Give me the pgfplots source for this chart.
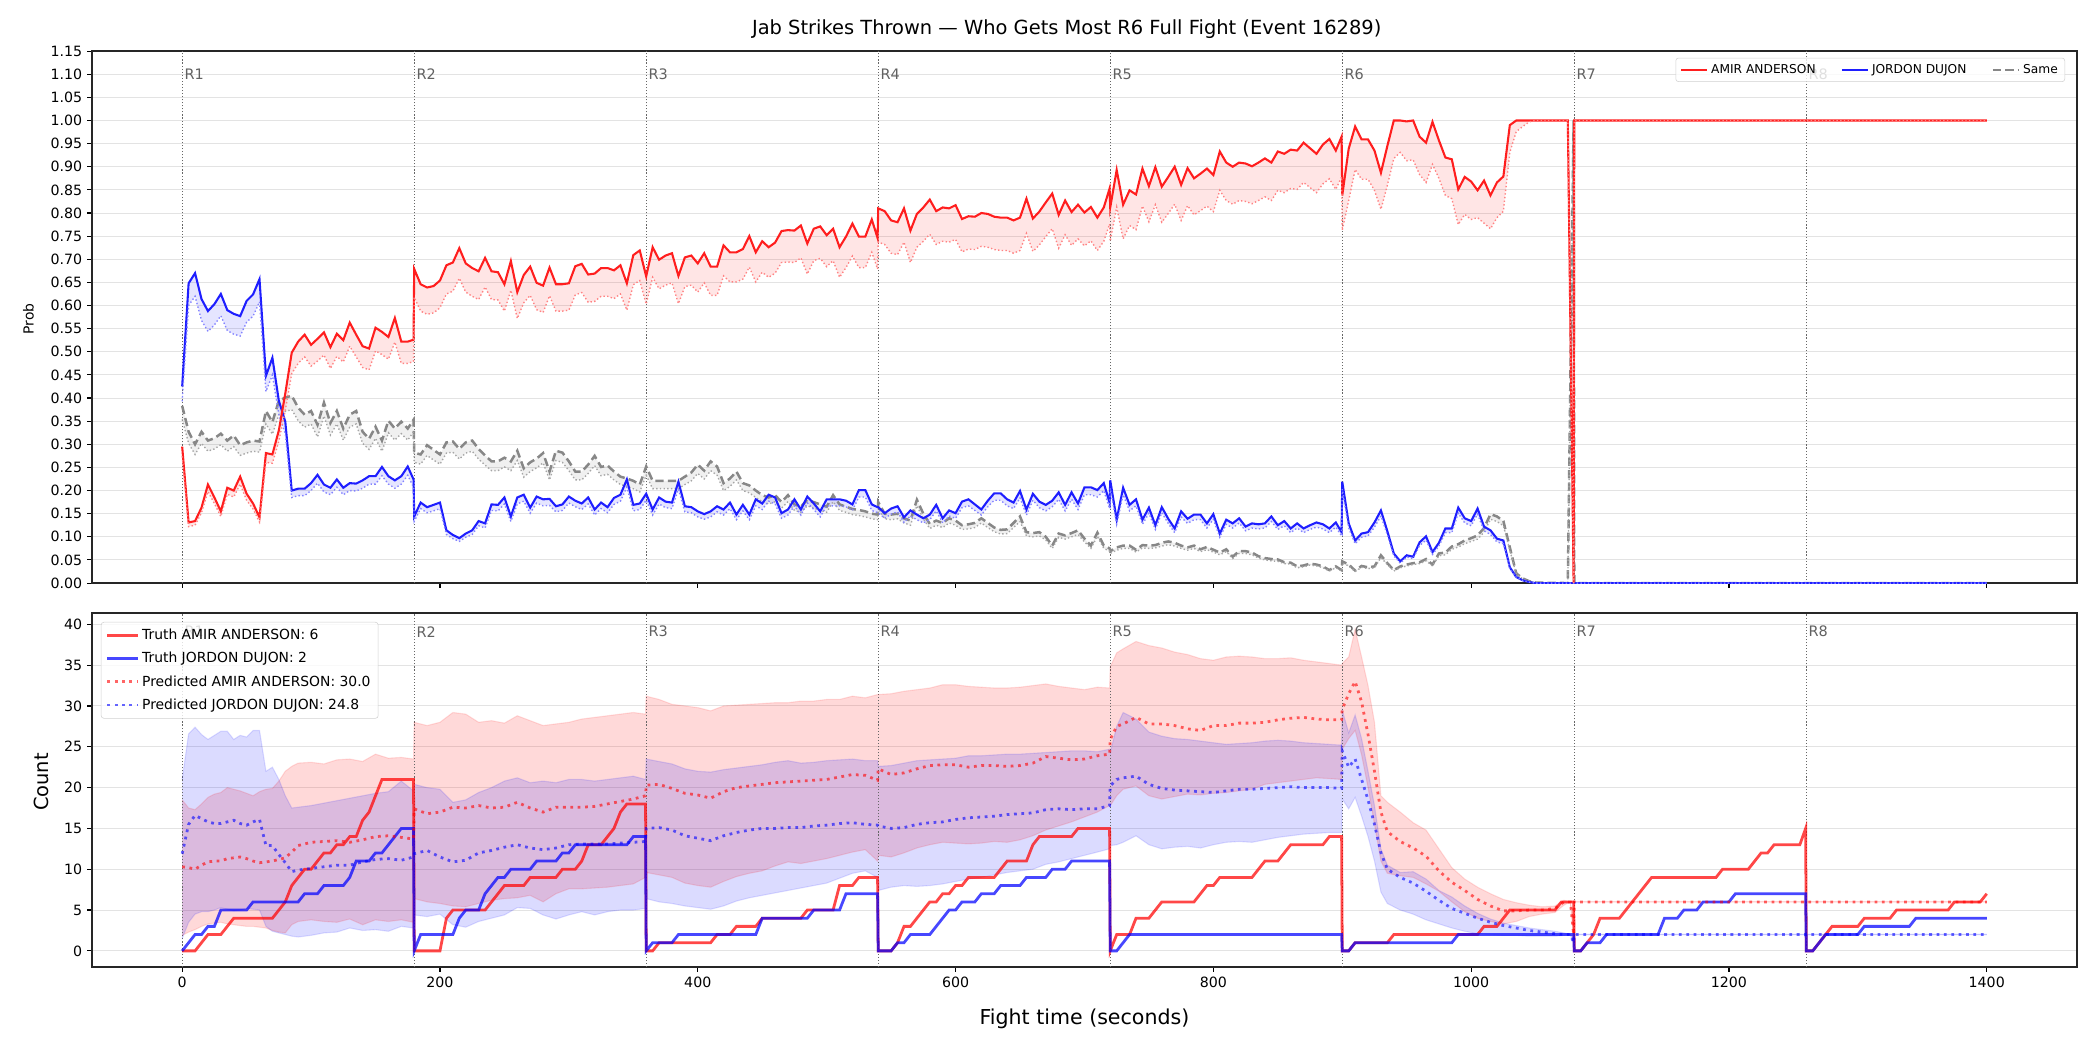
\documentclass[border=0pt]{standalone}
\usepackage{fontspec}
\setmainfont{DejaVu Sans}
\usepackage{pgfplots}
\usepackage{pgfplotstable}
\pgfplotsset{compat=1.18}
\usepgfplotslibrary{fillbetween}

\definecolor{amir}{RGB}{255,30,30}
\definecolor{jordon}{RGB}{30,30,255}
\definecolor{samec}{RGB}{135,135,135}

% win probabilities: solid estimate and lower (dotted) bound, sampled every 5 s
\pgfplotstableread{
t A Alo J Jlo S Slo
0 0.295 0.274 0.425 0.393 0.383 0.354
5 0.131 0.122 0.648 0.600 0.327 0.302
10 0.134 0.125 0.670 0.620 0.300 0.278
15 0.163 0.152 0.614 0.568 0.327 0.302
20 0.213 0.198 0.588 0.544 0.308 0.285
25 0.185 0.172 0.603 0.558 0.313 0.290
30 0.155 0.144 0.625 0.578 0.323 0.299
35 0.206 0.192 0.590 0.546 0.308 0.285
40 0.200 0.186 0.582 0.538 0.319 0.295
45 0.230 0.214 0.577 0.534 0.298 0.276
50 0.193 0.179 0.610 0.564 0.304 0.281
55 0.172 0.160 0.624 0.577 0.308 0.285
60 0.142 0.132 0.657 0.608 0.306 0.283
65 0.281 0.261 0.448 0.414 0.372 0.344
70 0.278 0.259 0.487 0.450 0.348 0.322
75 0.330 0.307 0.394 0.364 0.394 0.364
80 0.410 0.373 0.349 0.323 0.401 0.371
85 0.498 0.453 0.200 0.185 0.405 0.375
90 0.522 0.475 0.204 0.189 0.379 0.351
95 0.537 0.489 0.204 0.189 0.364 0.337
100 0.515 0.469 0.216 0.200 0.372 0.344
105 0.528 0.480 0.234 0.216 0.342 0.316
110 0.542 0.493 0.213 0.197 0.390 0.361
115 0.510 0.464 0.206 0.191 0.346 0.320
120 0.539 0.490 0.224 0.207 0.372 0.344
125 0.525 0.478 0.206 0.191 0.334 0.309
130 0.563 0.512 0.216 0.200 0.364 0.337
135 0.537 0.489 0.215 0.199 0.372 0.344
140 0.512 0.466 0.222 0.205 0.327 0.302
145 0.507 0.461 0.231 0.214 0.312 0.289
150 0.552 0.502 0.231 0.214 0.338 0.313
155 0.543 0.494 0.251 0.232 0.308 0.285
160 0.532 0.484 0.231 0.214 0.351 0.325
165 0.573 0.521 0.222 0.205 0.334 0.309
170 0.522 0.475 0.231 0.214 0.349 0.323
175 0.522 0.475 0.252 0.233 0.334 0.309
179.5 0.526 0.479 0.224 0.207 0.353 0.327
180 0.679 0.618 0.144 0.133 0.282 0.261
185 0.646 0.588 0.174 0.161 0.278 0.257
190 0.639 0.581 0.164 0.152 0.298 0.276
195 0.642 0.584 0.169 0.156 0.288 0.266
200 0.654 0.595 0.174 0.161 0.278 0.257
205 0.687 0.625 0.114 0.105 0.304 0.281
210 0.693 0.631 0.104 0.096 0.306 0.283
215 0.724 0.659 0.097 0.090 0.290 0.268
220 0.691 0.629 0.107 0.099 0.304 0.281
225 0.681 0.620 0.114 0.105 0.308 0.285
230 0.674 0.613 0.134 0.124 0.290 0.268
235 0.703 0.640 0.129 0.119 0.276 0.255
240 0.674 0.613 0.170 0.157 0.263 0.243
245 0.672 0.612 0.169 0.156 0.263 0.243
250 0.646 0.588 0.185 0.171 0.271 0.251
255 0.696 0.633 0.144 0.133 0.263 0.243
260 0.629 0.572 0.185 0.171 0.286 0.265
265 0.666 0.606 0.191 0.177 0.248 0.229
270 0.684 0.622 0.163 0.151 0.261 0.241
275 0.649 0.591 0.187 0.173 0.269 0.249
280 0.643 0.585 0.181 0.167 0.281 0.260
285 0.682 0.621 0.182 0.168 0.241 0.223
290 0.646 0.588 0.166 0.154 0.286 0.265
295 0.646 0.588 0.170 0.157 0.282 0.261
300 0.648 0.590 0.187 0.173 0.263 0.243
305 0.685 0.623 0.178 0.165 0.241 0.223
310 0.690 0.628 0.172 0.159 0.241 0.223
315 0.667 0.607 0.185 0.171 0.256 0.237
320 0.669 0.609 0.159 0.147 0.275 0.254
325 0.681 0.620 0.174 0.161 0.251 0.232
330 0.681 0.620 0.164 0.152 0.254 0.235
335 0.676 0.615 0.184 0.170 0.241 0.223
340 0.687 0.625 0.191 0.177 0.230 0.213
345 0.648 0.590 0.224 0.207 0.226 0.209
350 0.709 0.645 0.169 0.156 0.221 0.204
355 0.719 0.654 0.172 0.159 0.213 0.197
360 0.663 0.603 0.193 0.179 0.252 0.233
365 0.726 0.661 0.159 0.147 0.221 0.204
370 0.699 0.636 0.185 0.171 0.221 0.204
375 0.708 0.644 0.176 0.163 0.221 0.204
380 0.713 0.649 0.174 0.161 0.221 0.204
385 0.664 0.604 0.219 0.203 0.221 0.204
390 0.704 0.641 0.166 0.154 0.230 0.213
395 0.708 0.644 0.164 0.152 0.239 0.221
400 0.691 0.629 0.155 0.143 0.256 0.237
405 0.713 0.649 0.149 0.138 0.243 0.225
410 0.684 0.622 0.155 0.143 0.263 0.243
415 0.684 0.622 0.166 0.154 0.252 0.233
420 0.730 0.664 0.159 0.147 0.216 0.200
425 0.715 0.651 0.174 0.161 0.226 0.209
430 0.715 0.651 0.148 0.137 0.241 0.223
435 0.722 0.657 0.169 0.156 0.216 0.200
440 0.750 0.683 0.148 0.137 0.211 0.195
445 0.715 0.651 0.181 0.167 0.200 0.185
450 0.739 0.672 0.172 0.159 0.190 0.176
455 0.726 0.661 0.191 0.177 0.185 0.171
460 0.736 0.670 0.185 0.171 0.190 0.176
465 0.761 0.693 0.151 0.140 0.175 0.162
470 0.763 0.694 0.159 0.147 0.190 0.176
475 0.762 0.693 0.181 0.167 0.170 0.157
480 0.773 0.703 0.159 0.147 0.165 0.153
485 0.734 0.668 0.187 0.173 0.180 0.167
490 0.766 0.697 0.172 0.159 0.175 0.162
495 0.771 0.702 0.155 0.143 0.170 0.157
500 0.752 0.684 0.181 0.167 0.165 0.153
505 0.766 0.697 0.181 0.167 0.190 0.176
510 0.726 0.661 0.181 0.167 0.170 0.157
515 0.749 0.682 0.178 0.165 0.165 0.153
520 0.777 0.707 0.170 0.157 0.160 0.148
525 0.749 0.682 0.201 0.186 0.158 0.146
530 0.749 0.682 0.201 0.186 0.155 0.143
535 0.786 0.715 0.170 0.157 0.150 0.139
539.5 0.746 0.679 0.164 0.152 0.148 0.137
540 0.810 0.737 0.164 0.152 0.175 0.162
545 0.804 0.732 0.151 0.140 0.150 0.139
550 0.784 0.713 0.161 0.149 0.148 0.137
555 0.780 0.710 0.166 0.154 0.150 0.139
560 0.810 0.737 0.142 0.131 0.140 0.130
565 0.762 0.693 0.157 0.145 0.135 0.125
570 0.798 0.726 0.148 0.137 0.180 0.167
575 0.812 0.739 0.140 0.130 0.150 0.139
580 0.829 0.754 0.148 0.137 0.128 0.118
585 0.804 0.732 0.169 0.156 0.135 0.125
590 0.812 0.739 0.140 0.130 0.130 0.120
595 0.810 0.737 0.157 0.145 0.140 0.130
600 0.817 0.743 0.151 0.140 0.135 0.125
605 0.787 0.716 0.176 0.163 0.125 0.116
610 0.793 0.722 0.181 0.167 0.127 0.117
615 0.792 0.721 0.170 0.157 0.130 0.120
620 0.800 0.728 0.159 0.147 0.140 0.130
625 0.798 0.726 0.178 0.165 0.130 0.120
630 0.792 0.721 0.194 0.179 0.120 0.111
635 0.790 0.719 0.194 0.179 0.115 0.106
640 0.790 0.719 0.181 0.167 0.116 0.107
645 0.784 0.713 0.174 0.161 0.130 0.120
650 0.790 0.719 0.199 0.184 0.144 0.133
655 0.831 0.756 0.159 0.147 0.110 0.102
660 0.788 0.717 0.193 0.179 0.108 0.100
665 0.803 0.731 0.176 0.163 0.110 0.102
670 0.823 0.749 0.169 0.156 0.100 0.093
675 0.842 0.766 0.178 0.165 0.081 0.075
680 0.796 0.724 0.196 0.181 0.107 0.099
685 0.827 0.753 0.169 0.156 0.103 0.095
690 0.802 0.730 0.196 0.181 0.108 0.100
695 0.818 0.744 0.172 0.159 0.114 0.105
700 0.801 0.729 0.207 0.191 0.096 0.089
705 0.813 0.740 0.207 0.191 0.081 0.075
710 0.790 0.719 0.201 0.186 0.109 0.101
715 0.812 0.739 0.216 0.200 0.081 0.075
719.5 0.853 0.776 0.174 0.161 0.075 0.069
720 0.812 0.739 0.222 0.205 0.069 0.064
725 0.893 0.813 0.137 0.127 0.077 0.071
730 0.818 0.744 0.206 0.191 0.081 0.075
735 0.849 0.773 0.169 0.156 0.081 0.075
740 0.840 0.764 0.181 0.167 0.072 0.067
745 0.896 0.815 0.137 0.127 0.082 0.076
750 0.858 0.781 0.163 0.151 0.081 0.075
755 0.899 0.818 0.125 0.116 0.082 0.076
760 0.857 0.780 0.164 0.152 0.087 0.080
765 0.878 0.799 0.139 0.129 0.090 0.083
770 0.900 0.819 0.118 0.109 0.087 0.080
775 0.861 0.784 0.155 0.143 0.081 0.075
780 0.897 0.816 0.139 0.129 0.077 0.071
785 0.875 0.796 0.148 0.137 0.081 0.075
790 0.885 0.805 0.148 0.137 0.073 0.068
795 0.896 0.815 0.129 0.119 0.078 0.072
800 0.882 0.803 0.149 0.138 0.072 0.067
805 0.933 0.849 0.107 0.099 0.066 0.061
810 0.909 0.827 0.137 0.127 0.073 0.068
815 0.900 0.819 0.129 0.119 0.057 0.053
820 0.909 0.827 0.140 0.130 0.069 0.064
825 0.907 0.825 0.122 0.113 0.069 0.064
830 0.901 0.820 0.129 0.119 0.066 0.061
835 0.909 0.827 0.127 0.117 0.058 0.054
840 0.918 0.835 0.129 0.119 0.054 0.050
845 0.909 0.827 0.144 0.133 0.052 0.048
850 0.933 0.849 0.125 0.116 0.051 0.047
855 0.928 0.844 0.134 0.124 0.045 0.042
860 0.937 0.853 0.118 0.109 0.044 0.041
865 0.935 0.851 0.129 0.119 0.036 0.033
870 0.952 0.866 0.118 0.109 0.038 0.035
875 0.940 0.855 0.125 0.116 0.042 0.039
880 0.928 0.844 0.131 0.121 0.040 0.037
885 0.948 0.863 0.127 0.117 0.036 0.033
890 0.960 0.874 0.118 0.109 0.028 0.026
895 0.935 0.851 0.131 0.121 0.036 0.033
899.5 0.965 0.878 0.110 0.102 0.028 0.026
900 0.838 0.763 0.219 0.203 0.047 0.043
905 0.939 0.827 0.129 0.119 0.040 0.037
910 0.987 0.894 0.092 0.085 0.027 0.025
915 0.959 0.873 0.107 0.099 0.037 0.034
920 0.959 0.873 0.110 0.102 0.034 0.031
925 0.935 0.849 0.131 0.121 0.036 0.033
930 0.887 0.808 0.157 0.145 0.060 0.055
935 0.945 0.860 0.112 0.104 0.043 0.040
940 1.000 0.918 0.064 0.059 0.028 0.026
945 1.000 0.931 0.047 0.043 0.036 0.033
950 0.998 0.913 0.060 0.056 0.040 0.037
955 1.000 0.915 0.057 0.053 0.043 0.040
960 0.965 0.883 0.088 0.081 0.045 0.042
965 0.952 0.866 0.101 0.093 0.052 0.048
970 0.997 0.905 0.067 0.062 0.040 0.037
975 0.957 0.875 0.087 0.080 0.064 0.059
980 0.920 0.838 0.118 0.109 0.066 0.061
985 0.916 0.831 0.118 0.109 0.079 0.073
990 0.851 0.775 0.163 0.151 0.084 0.078
995 0.878 0.797 0.140 0.130 0.092 0.085
1000 0.868 0.786 0.134 0.124 0.097 0.090
1005 0.849 0.790 0.161 0.149 0.103 0.095
1010 0.870 0.778 0.122 0.113 0.119 0.110
1015 0.838 0.766 0.114 0.105 0.149 0.138
1020 0.866 0.790 0.096 0.089 0.144 0.133
1025 0.879 0.804 0.092 0.085 0.134 0.124
1030 0.990 0.931 0.034 0.031 0.077 0.071
1035 1.000 0.976 0.013 0.012 0.021 0.019
1040 1.000 0.987 0.006 0.006 0.010 0.009
1045 1.000 0.997 0.002 0.002 0.004 0.004
1050 1.000 1.000 0.000 0.000 0.001 0.001
1075 1.000 1.000 0.000 0.000 0.000 0.000
1079.5 0.000 0.000 0.000 0.000 1.000 1.000
1080 1.000 1.000 0.000 0.000 0.000 0.000
1400 1.000 1.000 0.000 0.000 0.000 0.000
}\probtable

% predicted counts with their bands
\pgfplotstableread{
t pA aLo aHi pJ jLo jHi
0 10.3 1.9 18.5 11.9 1.5 21.0
5 10.2 2.3 17.5 15.5 3.5 26.6
10 10.0 2.6 17.3 16.6 4.5 27.4
15 10.5 3.0 18.0 16.2 4.8 26.5
20 10.9 3.3 18.8 15.8 4.8 25.9
25 11.0 3.4 19.2 15.6 5.0 26.4
30 11.0 3.5 19.4 15.6 5.3 26.9
35 11.3 3.3 20.0 15.8 5.1 26.9
40 11.4 3.2 19.8 16.0 4.9 25.9
45 11.5 3.1 19.6 15.6 5.0 26.4
50 11.3 3.0 19.3 15.4 5.2 26.2
55 11.0 3.0 19.0 15.8 5.1 27.0
60 10.8 2.9 19.5 16.1 5.0 27.0
65 10.9 2.8 19.8 12.9 3.0 22.0
70 11.0 2.5 19.9 12.9 2.4 22.5
75 11.2 2.3 20.8 11.8 2.2 21.0
80 11.4 2.2 22.0 10.8 2.0 19.0
85 12.1 3.2 22.6 9.7 1.8 17.5
90 12.9 3.6 23.0 9.9 1.7 17.6
100 13.3 3.8 23.1 10.1 1.9 17.8
110 13.4 3.6 22.9 10.3 2.2 18.1
120 13.5 3.5 23.4 10.5 2.3 18.4
130 13.3 3.9 23.5 10.5 2.8 18.7
140 13.6 3.2 23.2 10.9 2.5 19.0
150 14.0 3.8 24.1 11.2 2.6 19.3
160 14.1 3.6 23.6 11.3 2.4 19.5
170 13.9 3.8 23.7 11.1 3.0 20.8
179.5 13.7 3.5 23.5 11.5 2.8 19.6
180 17.4 6.4 28.0 11.9 4.4 20.4
190 16.8 6.0 27.6 12.3 4.2 20.0
200 17.0 5.8 28.0 11.5 4.5 19.8
210 17.6 5.5 29.2 10.9 3.2 18.2
220 17.5 5.4 29.0 11.1 2.9 18.5
230 17.8 5.8 28.0 12.0 3.6 19.4
240 17.5 6.2 28.2 12.3 4.0 20.0
250 17.6 6.4 27.9 12.7 4.4 20.8
260 18.2 6.5 28.8 13.0 5.3 21.2
270 17.5 6.8 28.2 12.6 5.2 20.6
280 17.0 6.0 27.6 12.4 4.4 20.8
290 17.6 7.0 27.8 12.6 3.9 20.6
300 17.6 7.6 28.0 13.0 4.4 21.0
310 17.6 7.6 28.4 13.1 4.8 21.0
320 17.7 7.7 28.6 13.1 4.4 20.8
330 18.0 7.8 28.8 13.1 4.8 21.0
340 18.3 8.0 29.0 13.2 5.0 21.2
350 18.6 8.2 29.2 13.3 5.0 21.4
359.5 19.0 9.0 29.0 13.4 5.2 21.0
360 20.3 9.6 31.2 15.0 6.4 23.5
370 20.4 9.3 30.8 15.1 6.0 23.2
380 19.9 9.0 30.2 14.8 5.8 22.9
390 19.3 8.3 30.0 14.1 5.5 22.3
400 19.1 8.0 29.8 13.8 5.3 22.0
410 18.7 7.8 29.4 13.5 5.1 21.9
420 19.5 8.5 30.0 14.1 5.5 22.2
430 20.0 9.1 30.1 14.5 6.1 22.4
440 20.2 9.5 30.2 14.8 6.5 22.6
450 20.4 9.8 30.3 15.0 6.8 22.8
460 20.6 10.4 30.4 15.0 7.1 23.1
470 20.7 10.9 30.4 15.1 7.4 23.3
480 20.8 10.7 30.6 15.1 7.7 23.0
490 20.9 11.0 30.6 15.3 8.0 23.1
500 21.0 11.3 30.8 15.4 8.3 23.3
510 21.3 11.7 30.8 15.6 8.9 23.4
520 21.6 12.1 31.2 15.7 9.5 23.5
530 21.5 12.4 31.0 15.5 9.8 23.3
539.5 20.9 11.0 31.4 15.4 9.0 23.3
540 22.3 11.7 31.4 15.3 7.4 22.6
550 21.6 11.5 31.5 15.0 7.8 22.7
560 21.8 12.0 31.8 15.1 8.0 23.0
570 22.3 12.6 32.0 15.5 7.9 23.3
580 22.7 13.0 32.2 15.7 8.0 23.4
590 22.8 13.3 32.6 15.8 8.2 23.5
600 22.8 13.2 32.6 16.1 8.5 23.6
610 22.5 13.1 32.4 16.3 8.8 23.9
620 22.7 13.2 32.3 16.4 9.0 23.9
630 22.7 13.4 32.2 16.5 9.3 24.0
640 22.6 13.3 32.2 16.7 9.6 24.1
650 22.7 13.6 32.3 16.8 9.8 24.1
660 23.0 14.1 32.5 16.9 10.0 24.2
670 23.8 14.8 32.7 17.3 10.6 24.3
680 23.6 15.3 32.4 17.4 10.9 24.4
690 23.4 15.8 32.2 17.3 11.3 24.5
700 23.5 16.4 32.0 17.4 11.7 24.5
710 23.9 17.0 32.3 17.4 12.1 24.4
719.5 24.1 17.8 32.2 17.8 12.5 24.7
720 25.9 17.8 34.8 20.2 12.9 24.3
725 27.5 19.0 36.5 21.0 13.0 27.5
730 27.8 19.8 37.0 21.2 13.3 29.2
740 28.6 20.2 37.9 21.4 14.1 28.4
750 27.8 19.0 37.4 20.4 13.0 26.8
760 27.8 18.6 37.1 19.9 12.5 26.3
770 27.6 18.9 36.6 19.7 12.7 26.0
780 27.2 19.2 36.3 19.6 12.8 25.9
790 27.0 19.1 35.8 19.5 12.6 25.7
800 27.6 19.3 35.6 19.4 13.0 25.5
810 27.6 19.4 36.0 19.6 13.3 25.3
820 27.9 19.6 36.1 19.8 13.4 25.4
830 27.9 19.8 36.0 19.8 13.3 25.5
840 28.0 20.4 35.8 19.9 13.6 25.7
850 28.3 20.6 35.8 20.0 13.9 25.8
860 28.5 20.8 35.9 20.1 14.1 25.7
870 28.6 21.0 35.6 20.0 14.3 25.5
880 28.4 21.2 35.4 20.0 14.4 25.4
890 28.3 21.1 35.2 20.0 14.5 25.3
899.5 28.3 21.0 35.0 19.9 14.5 25.2
900 29.6 24.7 35.2 24.5 18.6 29.5
905 31.5 26.0 36.0 22.5 17.4 26.7
910 33.0 27.0 39.4 23.5 18.8 28.9
915 30.5 24.0 36.0 21.0 16.5 26.0
920 26.5 20.0 32.5 18.5 14.0 22.0
925 22.0 15.5 28.0 15.5 11.0 17.8
930 17.0 11.0 19.0 12.0 7.2 12.5
935 14.6 9.5 18.2 10.0 5.8 10.5
945 13.4 9.2 17.0 9.0 5.0 9.6
955 12.6 9.0 15.7 8.3 4.5 9.7
965 11.6 8.2 14.8 7.3 3.8 8.8
975 9.8 7.3 12.5 6.2 3.3 7.4
985 8.4 6.0 10.2 5.2 2.8 6.6
995 7.4 4.8 8.8 4.6 2.4 5.5
1005 6.3 4.0 7.8 4.0 2.1 4.6
1015 5.5 3.6 7.0 3.5 2.0 3.9
1025 4.9 3.3 6.3 3.1 1.9 3.4
1035 4.9 3.6 5.9 2.8 1.9 3.1
1045 5.0 4.2 5.6 2.5 1.8 2.8
1055 5.0 4.5 5.4 2.3 1.8 2.6
1065 5.2 4.7 5.5 2.1 1.8 2.4
1072 6.0 5.6 6.2 2.0 1.9 2.2
1077 6.0 6.0 6.0 2.0 2.0 2.0
1079.5 2.0 2.0 2.0 1.0 1.0 1.0
1080 6.0 6.0 6.0 2.0 2.0 2.0
1400 6.0 6.0 6.0 2.0 2.0 2.0
}\predtable

\tikzset{
  rline/.style={black!60, line width=0.7pt, dash pattern=on 0.8pt off 1.4pt},
  rlab/.style={anchor=west, text=black!62, font=\fontsize{10.4}{12}\selectfont, inner sep=0pt, xshift=1.5pt},
  dotline/.style={line width=1pt, dash pattern=on 1pt off 1.65pt},
  bigdot/.style={line width=2pt, dash pattern=on 2pt off 3.3pt},
}

\pgfplotsset{
  fightaxis/.style={
    scale only axis, width=1429.2pt,
    xmin=-70, xmax=1470,
    xtick={0,200,400,600,800,1000,1200,1400},
    tick align=outside, xtick pos=bottom, ytick pos=left,
    major tick length=3.5pt,
    tick style={black, line width=0.8pt},
    axis line style={black!85, line width=1pt},
    ymajorgrids, grid style={black!11, line width=0.7pt},
    ticklabel style={font=\fontsize{10.2}{12}\selectfont},
    /pgf/number format/assume math mode=true,
    /pgf/number format/1000 sep={},
  },
}

\begin{document}
\begin{tikzpicture}
\path (0pt,0pt) rectangle (1512pt,756pt);
\coordinate (topSW) at (66.2pt,336.2pt);
\coordinate (botSW) at (66.2pt,59.8pt);

% ---------- probabilities ----------
\begin{axis}[fightaxis,
  at={(topSW)}, anchor=south west, height=383pt,
  ymin=0, ymax=1.15,
  ytick={0,0.05,0.10,0.15,0.20,0.25,0.30,0.35,0.40,0.45,0.50,0.55,0.60,0.65,0.70,0.75,0.80,0.85,0.90,0.95,1.00,1.05,1.10,1.15},
  y tick label style={/pgf/number format/.cd, fixed, fixed zerofill, precision=2},
  xticklabels={},
  legend columns=3,
  legend style={at={(0.994,0.9875)}, anchor=north east, draw=black!18, rounded corners=2pt,
    fill=white, fill opacity=0.8, text opacity=1, font=\fontsize{8.8}{10}\selectfont,
    inner xsep=3pt, inner ysep=2.5pt,
    /tikz/every even column/.append style={column sep=16pt}},
  legend image code/.code={\draw[#1] (0pt,0pt) -- (19pt,0pt);},
]
\addplot[rline, forget plot] coordinates {(0,0) (0,1.15)};
\addplot[rline, forget plot] coordinates {(180,0) (180,1.15)};
\addplot[rline, forget plot] coordinates {(360,0) (360,1.15)};
\addplot[rline, forget plot] coordinates {(540,0) (540,1.15)};
\addplot[rline, forget plot] coordinates {(720,0) (720,1.15)};
\addplot[rline, forget plot] coordinates {(900,0) (900,1.15)};
\addplot[rline, forget plot] coordinates {(1080,0) (1080,1.15)};
\addplot[rline, forget plot] coordinates {(1260,0) (1260,1.15)};
\node[rlab] at (axis cs:0,1.10) {R1};
\node[rlab] at (axis cs:180,1.10) {R2};
\node[rlab] at (axis cs:360,1.10) {R3};
\node[rlab] at (axis cs:540,1.10) {R4};
\node[rlab] at (axis cs:720,1.10) {R5};
\node[rlab] at (axis cs:900,1.10) {R6};
\node[rlab] at (axis cs:1080,1.10) {R7};
\node[rlab] at (axis cs:1260,1.10) {R8};

\addplot[name path=S, draw=none, forget plot] table[x=t,y=S]{\probtable};
\addplot[name path=Slo, draw=none, forget plot] table[x=t,y=Slo]{\probtable};
\addplot[name path=J, draw=none, forget plot] table[x=t,y=J]{\probtable};
\addplot[name path=Jlo, draw=none, forget plot] table[x=t,y=Jlo]{\probtable};
\addplot[name path=A, draw=none, forget plot] table[x=t,y=A]{\probtable};
\addplot[name path=Alo, draw=none, forget plot] table[x=t,y=Alo]{\probtable};
\addplot[fill=black, fill opacity=0.06, draw=none, forget plot] fill between[of=S and Slo];
\addplot[fill=blue, fill opacity=0.10, draw=none, forget plot] fill between[of=J and Jlo];
\addplot[fill=red, fill opacity=0.10, draw=none, forget plot] fill between[of=A and Alo];

\addplot[samec, line width=1.8pt, dash pattern=on 6pt off 3pt, forget plot] table[x=t,y=S]{\probtable};
\addplot[black!35, dotline, forget plot] table[x=t,y=Slo]{\probtable};
\addplot[jordon, line width=1.5pt, forget plot] table[x=t,y=J]{\probtable};
\addplot[jordon!55, dotline, forget plot] table[x=t,y=Jlo]{\probtable};
\addplot[amir, line width=1.5pt, forget plot] table[x=t,y=A]{\probtable};
\addplot[amir!55, dotline, forget plot] table[x=t,y=Alo]{\probtable};

\addlegendimage{amir, line width=1.5pt}
\addlegendentry{AMIR ANDERSON}
\addlegendimage{jordon, line width=1.5pt}
\addlegendentry{JORDON DUJON}
\addlegendimage{samec, line width=1.8pt, dash pattern=on 6pt off 3pt}
\addlegendentry{Same}
\end{axis}

% ---------- counts ----------
\begin{axis}[fightaxis,
  at={(botSW)}, anchor=south west, height=254.9pt,
  ymin=-1.97, ymax=41.4,
  ytick={0,5,10,15,20,25,30,35,40},
  legend style={at={(0.0045,0.9745)}, anchor=north west, draw=black!18, rounded corners=2pt,
    fill=white, fill opacity=0.8, text opacity=1, font=\fontsize{10}{12}\selectfont,
    inner xsep=3.5pt, inner ysep=3pt, row sep=3.6pt},
  legend cell align=left,
  legend image code/.code={\draw[#1] (0pt,0pt) -- (22pt,0pt);},
]
\addplot[rline, forget plot] coordinates {(0,-1.97) (0,41.4)};
\addplot[rline, forget plot] coordinates {(180,-1.97) (180,41.4)};
\addplot[rline, forget plot] coordinates {(360,-1.97) (360,41.4)};
\addplot[rline, forget plot] coordinates {(540,-1.97) (540,41.4)};
\addplot[rline, forget plot] coordinates {(720,-1.97) (720,41.4)};
\addplot[rline, forget plot] coordinates {(900,-1.97) (900,41.4)};
\addplot[rline, forget plot] coordinates {(1080,-1.97) (1080,41.4)};
\addplot[rline, forget plot] coordinates {(1260,-1.97) (1260,41.4)};
\node[rlab] at (axis cs:0,39.1) {R1};
\node[rlab] at (axis cs:180,39.1) {R2};
\node[rlab] at (axis cs:360,39.1) {R3};
\node[rlab] at (axis cs:540,39.1) {R4};
\node[rlab] at (axis cs:720,39.1) {R5};
\node[rlab] at (axis cs:900,39.1) {R6};
\node[rlab] at (axis cs:1080,39.1) {R7};
\node[rlab] at (axis cs:1260,39.1) {R8};

\addplot[name path=aLo, red, opacity=0.12, line width=0.8pt, forget plot] table[x=t,y=aLo]{\predtable};
\addplot[name path=aHi, red, opacity=0.12, line width=0.8pt, forget plot] table[x=t,y=aHi]{\predtable};
\addplot[name path=jLo, blue, opacity=0.12, line width=0.8pt, forget plot] table[x=t,y=jLo]{\predtable};
\addplot[name path=jHi, blue, opacity=0.12, line width=0.8pt, forget plot] table[x=t,y=jHi]{\predtable};
\addplot[fill=red, fill opacity=0.15, draw=none, forget plot] fill between[of=aLo and aHi];
\addplot[fill=blue, fill opacity=0.14, draw=none, forget plot] fill between[of=jLo and jHi];

% observed running counts
\addplot[red, opacity=0.72, line width=2pt, forget plot] coordinates {
(0,0) (10,0) (20,2) (30,2) (40,4) (70,4) (75,5) (80,6) (85,8) (90,9) (95,10) (100,10)
(105,11) (110,12) (115,12) (120,13) (125,13) (130,14) (135,14) (140,16) (145,17) (150,19)
(155,21) (179.5,21) (180,0) (200,0) (205,4) (210,5) (235,5) (240,6) (245,7) (250,8)
(265,8) (270,9) (290,9) (295,10) (305,10) (310,11) (315,13) (325,13) (330,14) (335,15)
(340,17) (345,18) (359.5,18) (360,0) (365,0) (370,1) (410,1) (415,2) (425,2) (430,3)
(445,3) (450,4) (480,4) (485,5) (505,5) (510,8) (520,8) (525,9) (539.5,9) (540,0)
(550,0) (555,1) (560,3) (565,3) (570,4) (575,5) (580,6) (585,6) (590,7) (595,7) (600,8)
(605,8) (610,9) (630,9) (635,10) (640,11) (655,11) (660,13) (665,14) (690,14) (695,15)
(719.5,15) (720,0) (725,2) (735,2) (740,4) (750,4) (755,5) (760,6) (785,6) (790,7)
(795,8) (800,8) (805,9) (830,9) (835,10) (840,11) (850,11) (855,12) (860,13) (885,13)
(890,14) (899.5,14) (900,0) (905,0) (910,1) (935,1) (940,2) (1005,2) (1010,3) (1020,3)
(1025,4) (1030,5) (1065,5) (1070,6) (1079.5,6) (1080,0) (1085,0) (1090,1) (1095,2)
(1100,4) (1115,4) (1120,5) (1125,6) (1130,7) (1135,8) (1140,9) (1190,9) (1195,10)
(1215,10) (1220,11) (1225,12) (1230,12) (1235,13) (1255,13) (1259.5,15) (1260,0)
(1265,0) (1270,1) (1275,2) (1280,3) (1300,3) (1305,4) (1325,4) (1330,5) (1370,5)
(1375,6) (1395,6) (1400,7)};
\addplot[blue, opacity=0.72, line width=2pt, forget plot] coordinates {
(0,0) (5,1) (10,2) (15,2) (20,3) (25,3) (30,5) (50,5) (55,6) (90,6) (95,7) (105,7)
(110,8) (125,8) (130,9) (135,11) (145,11) (150,12) (155,12) (160,13) (165,14) (170,15)
(179.5,15) (180,0) (185,2) (210,2) (215,4) (220,5) (230,5) (235,7) (240,8) (245,9)
(250,9) (255,10) (270,10) (275,11) (290,11) (295,12) (300,12) (305,13) (345,13)
(350,14) (359.5,14) (360,0) (365,1) (380,1) (385,2) (445,2) (450,4) (485,4) (490,5)
(510,5) (515,7) (539.5,7) (540,0) (550,0) (555,1) (560,1) (565,2) (580,2) (585,3)
(590,4) (595,5) (600,5) (605,6) (615,6) (620,7) (630,7) (635,8) (650,8) (655,9) (670,9)
(675,10) (685,10) (690,11) (719.5,11) (720,0) (725,0) (735,2) (899.5,2) (900,0) (905,0)
(910,1) (985,1) (990,2) (1079.5,2) (1080,0) (1085,0) (1090,1) (1100,1) (1105,2)
(1145,2) (1150,4) (1160,4) (1165,5) (1175,5) (1180,6) (1200,6) (1205,7) (1259.5,7)
(1260,0) (1265,0) (1270,1) (1275,2) (1300,2) (1305,3) (1340,3) (1345,4) (1400,4)};
\addplot[red, opacity=0.6, bigdot, forget plot] table[x=t,y=pA]{\predtable};
\addplot[blue, opacity=0.6, bigdot, forget plot] table[x=t,y=pJ]{\predtable};

\addlegendimage{red, opacity=0.72, line width=2pt}
\addlegendentry{Truth AMIR ANDERSON: 6}
\addlegendimage{blue, opacity=0.72, line width=2pt}
\addlegendentry{Truth JORDON DUJON: 2}
\addlegendimage{red, opacity=0.6, bigdot}
\addlegendentry{Predicted AMIR ANDERSON: 30.0}
\addlegendimage{blue, opacity=0.6, bigdot}
\addlegendentry{Predicted JORDON DUJON: 24.8}
\end{axis}

% titles and axis labels
\node[font=\fontsize{14}{16}\selectfont] at (768pt,734.8pt) {Jab Strikes Thrown — Who Gets Most R6 Full Fight (Event 16289)};
\node[font=\fontsize{14.8}{17}\selectfont] at (780.8pt,22.3pt) {Fight time (seconds)};
\node[rotate=90, font=\fontsize{10}{12}\selectfont] at (20.4pt,526.5pt) {Prob};
\node[rotate=90, font=\fontsize{14}{16}\selectfont] at (29.9pt,192.9pt) {Count};
\end{tikzpicture}
\end{document}
